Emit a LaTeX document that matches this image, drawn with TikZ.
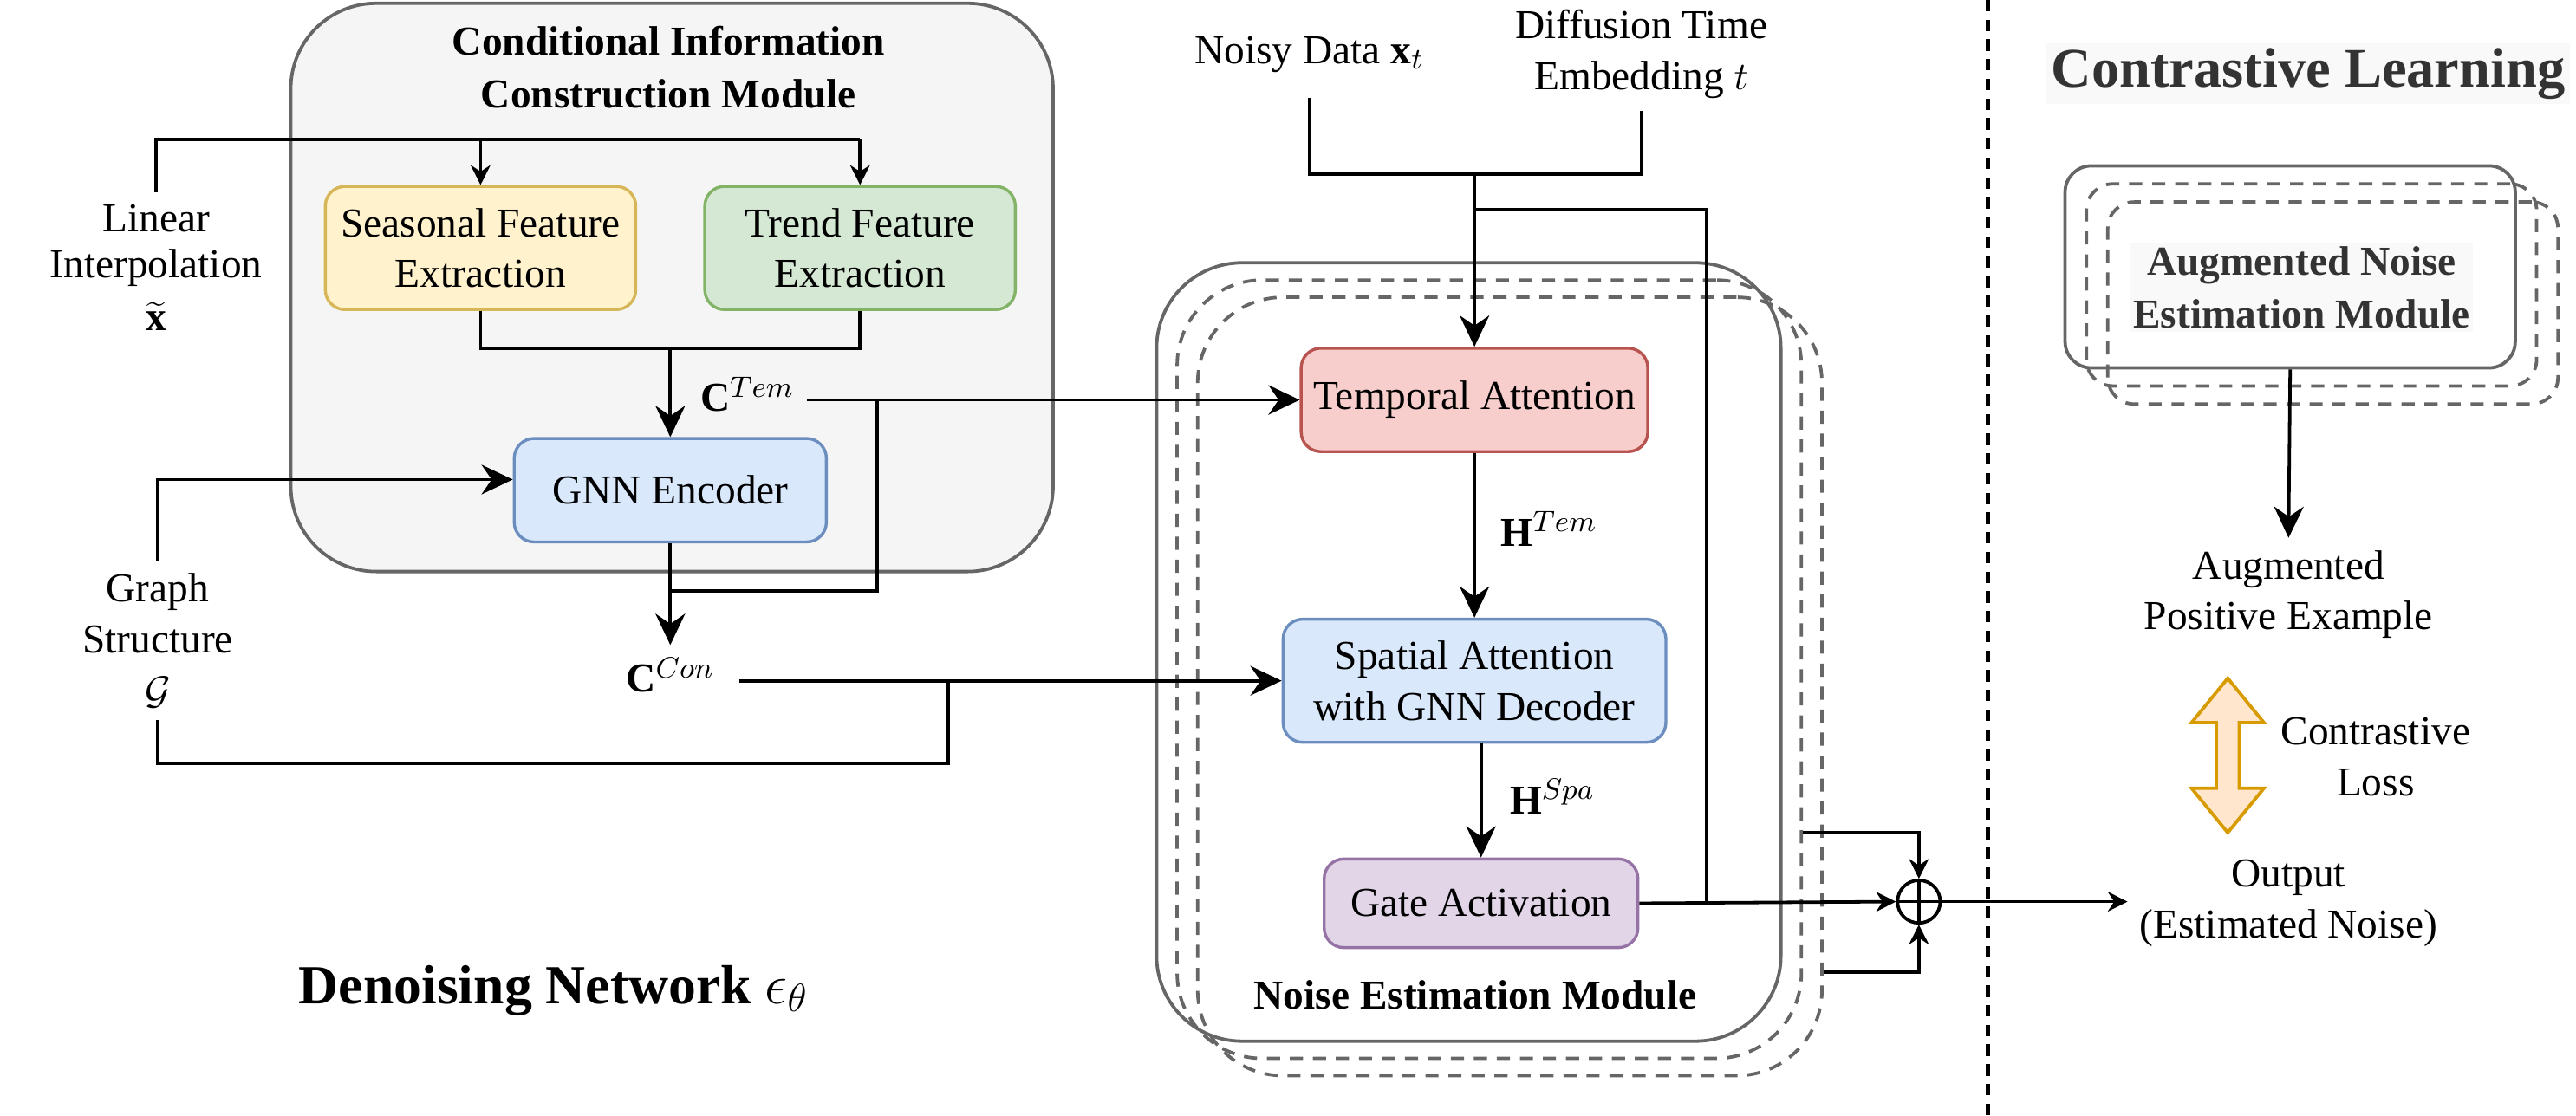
\documentclass[tikz,border=0pt]{standalone}
\usepackage{fontspec}
\setmainfont{Liberation Serif}
\usetikzlibrary{arrows.meta,positioning}
\definecolor{modgray}{HTML}{666666}
\definecolor{cimfill}{HTML}{F5F5F5}
\definecolor{ylwfill}{HTML}{FFF2CC}
\definecolor{ylwdraw}{HTML}{D6B656}
\definecolor{grnfill}{HTML}{D5E8D4}
\definecolor{grndraw}{HTML}{82B366}
\definecolor{bluefill}{HTML}{DAE8FC}
\definecolor{bluedraw}{HTML}{6C8EBF}
\definecolor{redfill}{HTML}{F8CECC}
\definecolor{reddraw}{HTML}{B85450}
\definecolor{purfill}{HTML}{E1D5E7}
\definecolor{purdraw}{HTML}{9673A6}
\definecolor{orgfill}{HTML}{FFE6CC}
\definecolor{orgdraw}{HTML}{D79B00}
\definecolor{titlegray}{HTML}{333333}
\definecolor{lightbg}{HTML}{F9F9F9}
\begin{document}
\begin{tikzpicture}[x=0.5pt,y=-0.5pt,line width=1pt,
    txt/.style={align=center,font=\fontsize{12.5}{15.5}\selectfont},
    blk/.style={txt,draw,rounded corners=6pt,line width=0.9pt},
    module/.style={draw=modgray,rounded corners=26pt,line width=1pt},
    ghost/.style={module,dash pattern=on 4pt off 3pt},
    ttl/.style={txt,font=\fontsize{12.5}{16}\selectfont\bfseries},
    big/.style={-{Stealth[length=9.5pt,width=9pt]}},
    small/.style={-{Stealth[length=6pt,width=6pt]}}]
    \useasboundingbox (0,0) rectangle (1568,679.5);
    \node[module,fill=cimfill,minimum width=232pt,minimum height=173pt] (cim) at (409,175) {};
    \node[ttl] (cimtitle) at (407,41) {Conditional Information\\Construction Module};
    \node[blk,fill=ylwfill,draw=ylwdraw,minimum width=94.5pt,minimum height=37.5pt] (seas) at (292.5,151) {Seasonal Feature\\Extraction};
    \node[blk,fill=grnfill,draw=grndraw,minimum width=94.5pt,minimum height=37.5pt] (trend) at (523.5,151) {Trend Feature\\Extraction};
    \node[blk,fill=bluefill,draw=bluedraw,minimum width=95pt,minimum height=31.5pt] (gnn) at (408,298.5) {GNN Encoder};
    \node[txt,font=\fontsize{12.5}{14}\selectfont] (lin) at (95,163) {Linear\\Interpolation\\[2pt]$\widetilde{\mathbf{x}}$};
    \node[txt] (graph) at (96,390) {Graph\\Structure\\$\mathcal{G}$};
    \node[txt] (ctem) at (455,240) {$\mathbf{C}^{Tem}$};
    \node[txt,inner xsep=7pt] (ccon) at (408,411) {$\mathbf{C}^{Con}$};
    \node[txt,font=\fontsize{16.8}{19}\selectfont\bfseries] (den) at (337,603) {Denoising Network $\epsilon_\theta$};
    \node[ghost,minimum width=190pt,minimum height=237pt] (nem2) at (919,418) {};
    \node[ghost,minimum width=190pt,minimum height=237pt] (nem1) at (906.5,407.5) {};
    \node[module,minimum width=190pt,minimum height=237pt] (nem) at (894,397) {};
    \node[ttl] (nemtitle) at (898,606) {Noise Estimation Module};
    \node[blk,fill=redfill,draw=reddraw,minimum width=105.5pt,minimum height=31.5pt] (temp) at (897.5,243.5) {Temporal Attention};
    \node[blk,fill=bluefill,draw=bluedraw,minimum width=116.5pt,minimum height=37.5pt] (spat) at (897.5,414.5) {Spatial Attention\\with GNN Decoder};
    \node[blk,fill=purfill,draw=purdraw,minimum width=95.5pt,minimum height=27pt] (gate) at (901.5,550) {Gate Activation};
    \node[txt] (htem) at (943,322) {$\mathbf{H}^{Tem}$};
    \node[txt] (hspa) at (945,485) {$\mathbf{H}^{Spa}$};
    \node[txt] (noisy) at (797,33) {Noisy Data $\mathbf{x}_t$};
    \node[txt] (diff) at (999,33) {Diffusion Time\\Embedding $t$};
    \node[draw,circle,minimum size=13pt,inner sep=0pt] (plus) at (1168,549) {};
    \node[txt,font=\fontsize{17}{20}\selectfont\bfseries,text=titlegray,fill=lightbg,inner sep=1.5pt] (cl) at (1405,45) {Contrastive Learning};
    \node[ghost,rounded corners=8pt,minimum width=137pt,minimum height=61.5pt] (aug2) at (1420,184.5) {};
    \node[ghost,rounded corners=8pt,minimum width=137pt,minimum height=61.5pt] (aug1) at (1407,173.5) {};
    \node[module,rounded corners=8pt,minimum width=137pt,minimum height=61.5pt] (aug) at (1394,162.5) {};
    \node[ttl,text=titlegray,fill=lightbg,inner sep=1pt] (augtxt) at (1401,175) {Augmented Noise\\Estimation Module};
    \node[txt] (pos) at (1393,362) {Augmented\\Positive Example};
    \node[txt] (loss) at (1446,461) {Contrastive\\Loss};
    \node[txt] (out) at (1393,550) {Output\\(Estimated Noise)};
    \coordinate (linA) at (95,85);
    \coordinate (linB) at (523.5,85);
    \coordinate (sjoin) at (408,212);
    \coordinate (ctj) at (534,243.5);
    \coordinate (cmerge) at (408,360);
    \coordinate (gB) at (577,465);
    \coordinate (gC) at (577,414.5);
    \coordinate (mix) at (897.5,106);
    \coordinate (skipA) at (897.5,127.5);
    \coordinate (skip) at (1039,550);
    \coordinate (ptop) at (1168,507);
    \coordinate (pbot) at (1168,592);
    \coordinate (outtip) at (1295,549);
    \coordinate (divtop) at (1210,0);
    \coordinate (divbot) at (1210,679.5);
    \draw (lin.north) |- (linB);
    \draw[small] (seas.north |- linA) -- (seas.north);
    \draw[small] (linB) -- (trend.north);
    \draw (seas.south) |- (sjoin) -| (trend.south);
    \draw[big] (sjoin) -- (gnn.north);
    \draw[big] (graph.north) |- ([yshift=3.25pt]gnn.west);
    \draw[big] (ctem.east |- temp.west) -- (temp.west);
    \draw (ctj) |- (cmerge);
    \draw[big] (gnn.south) -- (ccon.north);
    \draw[big] (ccon.east |- spat.west) -- (spat.west);
    \draw (graph.south) |- (gB) -- (gC);
    \draw ([yshift=-4pt]noisy.south) |- (mix) -| (diff.south);
    \draw[big] (mix) -- (temp.north);
    \draw (skipA) -| (skip);
    \draw[big] (temp.south) -- (spat.north);
    \draw[big] (gate.north |- spat.south) -- (gate.north);
    \draw[small] (gate.east) -- (plus.west);
    \draw (plus.north) -- (plus.south) (plus.west) -- (plus.east);
    \draw[small] (nem1.east |- ptop) -| (plus.north);
    \draw[small] (nem2.east |- pbot) -| (plus.south);
    \draw[small] (plus.east) -- (outtip);
    \draw[line width=1.3pt,dash pattern=on 3.5pt off 2.5pt] (divtop) -- (divbot);
    \draw[big] (aug.south) -- (pos.north);
    \draw[draw=orgdraw,fill=orgfill] (1356,413) -- (1378,440) -- (1363,440) -- (1363,480) -- (1378,480) -- (1356,507) -- (1334,480) -- (1349,480) -- (1349,440) -- (1334,440) -- cycle;
\end{tikzpicture}
\end{document}
